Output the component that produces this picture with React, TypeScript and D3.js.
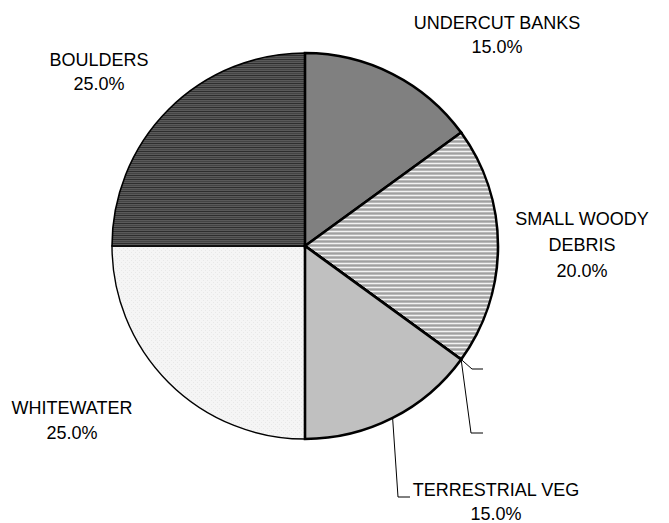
import React from "react";
import * as d3 from "d3";

const categories = ["UNDERCUT BANKS", "SMALL WOODY DEBRIS", "", "", "TERRESTRIAL VEG", "WHITEWATER", "BOULDERS"];
const values = [15, 20, 0, 0, 15, 25, 25];
const labelLines = [["UNDERCUT BANKS", "15.0%"], ["SMALL WOODY", "DEBRIS", "20.0%"], [], [], ["TERRESTRIAL VEG", "15.0%"], ["WHITEWATER", "25.0%"], ["BOULDERS", "25.0%"]];

// layout (not data)
const W = 669, H = 523;
const CX = 305, CY = 246, R = 193;
const labelPos: ([number, number] | null)[] = [
  [497, 29], [582, 225], null, null, [496, 496], [72, 414], [99, 66],
];
const lineH = [24, 26, 0, 0, 24, 25, 24];
const leaderPts: ([number, number][] | null)[] = [
  null, null,
  [[472, 369], [483, 369]],
  [[471, 433], [483, 433]],
  [[398, 497], [410, 497]],
  null, null,
];
const fills = ["#808080", "url(#pSWD)", "#ffffff", "#ffffff", "#c0c0c0", "url(#pWW)", "url(#pBO)"];
const strokeW = [2.6, 2.6, 2.6, 2.6, 2.6, 1.4, 1.6];

export default function App() {
  const pie = d3.pie<number>().sort(null).value((d) => d).startAngle(0).endAngle(2 * Math.PI);
  const arcs = pie(values);
  const arc = d3.arc<d3.PieArcDatum<number>>().innerRadius(0).outerRadius(R);
  const order = [5, 6, 0, 1, 2, 3, 4];
  return (
    <svg width={W} height={H} style={{ position: "absolute", left: 0, top: 0, background: "#fff" }}
      fontFamily="'Liberation Sans', Arial, sans-serif">
      <defs>
        <pattern id="pBO" width="8" height="4" patternUnits="userSpaceOnUse">
          <rect width="8" height="4" fill="#5a5a5a" />
          <rect y="1" width="8" height="1" fill="#2e2e2e" />
          <rect y="3" width="8" height="1" fill="#444" />
        </pattern>
        <pattern id="pSWD" width="8" height="4" patternUnits="userSpaceOnUse">
          <rect width="8" height="4" fill="#b8b8b8" />
          <rect y="1" width="8" height="1" fill="#f2f2f2" />
          <rect y="3" width="8" height="1" fill="#a0a0a0" />
        </pattern>
        <pattern id="pWW" width="4" height="4" patternUnits="userSpaceOnUse">
          <rect width="4" height="4" fill="#f5f5f5" />
          <rect x="0" y="0" width="1" height="1" fill="#e8e8e8" />
          <rect x="2" y="2" width="1" height="1" fill="#e8e8e8" />
        </pattern>
      </defs>
      <g transform={`translate(${CX},${CY})`}>
        {order.map((i) => (
          <path key={i} d={arc(arcs[i]) || ""} fill={fills[i]} stroke="#000" strokeWidth={strokeW[i]} strokeLinejoin="miter" />
        ))}
      </g>
      {arcs.map((a, i) => {
        const pts = leaderPts[i];
        if (!pts) return null;
        const mid = (a.startAngle + a.endAngle) / 2;
        const sx = CX + R * Math.sin(mid);
        const sy = CY - R * Math.cos(mid);
        const d = d3.line()([[sx, sy], ...pts]) || "";
        return <path key={"l" + i} d={d} fill="none" stroke="#000" strokeWidth={1} />;
      })}
      {labelLines.map((lines, i) => {
        const p = labelPos[i];
        if (!p || !categories[i]) return null;
        return (
          <text key={"t" + i} x={p[0]} y={p[1]} fontSize={18} textAnchor="middle" fill="#000">
            {lines.map((ln, j) => (
              <tspan key={j} x={p[0]} y={p[1] + j * lineH[i]}>{ln}</tspan>
            ))}
          </text>
        );
      })}
    </svg>
  );
}
